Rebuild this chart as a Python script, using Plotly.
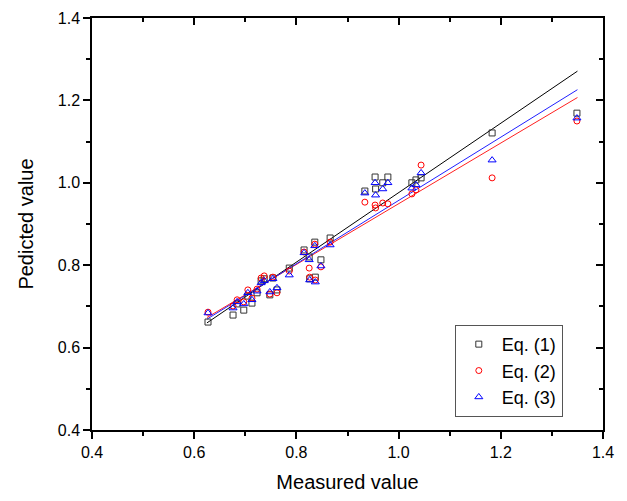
import plotly.graph_objects as go

# Measured values (shared x for all three equations)
measured = [0.627, 0.676, 0.684, 0.697, 0.705, 0.713, 0.723, 0.731, 0.737, 0.748,
            0.754, 0.762, 0.786, 0.815, 0.825, 0.826, 0.836, 0.837, 0.848, 0.866,
            0.934, 0.954, 0.955, 0.969, 0.979, 1.026, 1.034, 1.044, 1.183, 1.349]
eq1 = [0.662, 0.679, 0.706, 0.691, 0.725, 0.708, 0.733, 0.762, 0.767, 0.728,
       0.769, 0.740, 0.793, 0.837, 0.820, 0.767, 0.856, 0.771, 0.813, 0.866,
       0.980, 1.014, 0.985, 1.000, 1.014, 1.000, 1.007, 1.012, 1.121, 1.169]
eq2 = [0.686, 0.701, 0.716, 0.711, 0.740, 0.720, 0.742, 0.769, 0.774, 0.730,
       0.771, 0.733, 0.786, 0.832, 0.793, 0.771, 0.851, 0.764, 0.796, 0.856,
       0.953, 0.946, 0.939, 0.951, 0.949, 0.973, 0.983, 1.043, 1.012, 1.150]
eq3 = [0.684, 0.696, 0.711, 0.706, 0.733, 0.716, 0.737, 0.757, 0.762, 0.735,
       0.767, 0.745, 0.776, 0.830, 0.813, 0.764, 0.847, 0.759, 0.798, 0.849,
       0.975, 1.000, 0.970, 0.985, 1.000, 0.987, 0.995, 1.024, 1.055, 1.157]

# Linear fit lines (end points)
fit_x = [0.625, 1.35]
fit1 = [0.660, 1.271]
fit2 = [0.673, 1.207]
fit3 = [0.669, 1.226]

series_names = ["Eq. (1)", "Eq. (2)", "Eq. (3)"]
tick_vals = [0.4, 0.6, 0.8, 1.0, 1.2, 1.4]
tick_text = ["0.4", "0.6", "0.8", "1.0", "1.2", "1.4"]

fig = go.Figure()

# fit lines
for fy, col in [(fit1, "#000000"), (fit2, "#ff2020"), (fit3, "#2020ff")]:
    fig.add_trace(go.Scatter(x=fit_x, y=fy, mode="lines", showlegend=False,
                             line=dict(color=col, width=1), hoverinfo="skip"))

styles = [("square-open", "#333333", 6), ("circle-open", "#ff0000", 6), ("triangle-up-open", "#0000ff", 7)]
for name, ys, (sym, col, sz) in zip(series_names, [eq1, eq2, eq3], styles):
    fig.add_trace(go.Scatter(x=measured, y=ys, mode="markers", name=name,
                             marker=dict(symbol=sym, size=sz, color=col,
                                         line=dict(color=col, width=1))))

# invisible trace for mirrored (top/right) axes
fig.add_trace(go.Scatter(x=[0.4], y=[0.4], xaxis="x2", yaxis="y2", mode="markers",
                         marker=dict(opacity=0), showlegend=False, hoverinfo="skip"))

font_family = "Liberation Sans, Arial, sans-serif"
common = dict(range=[0.4, 1.4], showgrid=False, zeroline=False, showline=True,
              linecolor="black", linewidth=1.5, tickcolor="black", automargin=False)

fig.update_layout(
    width=611, height=485,
    margin=dict(l=84, r=16, t=10, b=63),
    plot_bgcolor="white", paper_bgcolor="white",
    font=dict(family=font_family, color="black"),
    xaxis=dict(**common, tickvals=tick_vals, ticktext=tick_text, ticks="outside",
               ticklen=7, tickwidth=1.5, tickfont=dict(size=16),
               minor=dict(ticks="outside", dtick=0.1, ticklen=4, tickcolor="black", tickwidth=1.5),
               title=dict(text="Measured value", font=dict(size=20), standoff=29)),
    yaxis=dict(**common, tickvals=tick_vals, ticktext=tick_text, ticks="outside",
               ticklen=7, tickwidth=1.5, tickfont=dict(size=16),
               minor=dict(ticks="outside", dtick=0.1, ticklen=4, tickcolor="black", tickwidth=1.5),
               title=dict(text="Pedicted value", font=dict(size=20), standoff=19)),
    xaxis2=dict(**common, overlaying="x", side="top", anchor="y2", tickvals=tick_vals,
                ticks="inside", ticklen=7, tickwidth=1.5, showticklabels=False,
                minor=dict(ticks="inside", dtick=0.1, ticklen=4, tickcolor="black", tickwidth=1.5)),
    yaxis2=dict(**common, overlaying="y", side="right", anchor="x2", tickvals=tick_vals,
                ticks="inside", ticklen=7, tickwidth=1.5, showticklabels=False,
                minor=dict(ticks="inside", dtick=0.1, ticklen=4, tickcolor="black", tickwidth=1.5)),
    legend=dict(x=0.71, y=0.255, xanchor="left", yanchor="top",
                bordercolor="#555555", borderwidth=1, bgcolor="white",
                font=dict(size=18), itemwidth=36, tracegroupgap=0),
    showlegend=True,
)

fig.write_html("out.html")
